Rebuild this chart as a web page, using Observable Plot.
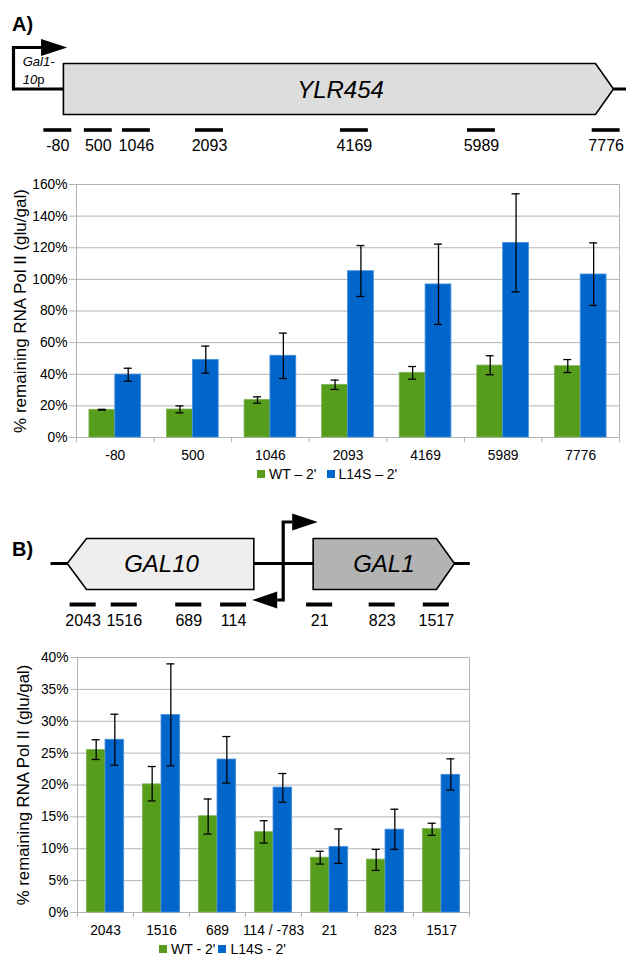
<!DOCTYPE html>
<html><head><meta charset="utf-8">
<script src="https://cdn.jsdelivr.net/npm/d3@7"></script>
<script src="https://cdn.jsdelivr.net/npm/@observablehq/plot@0.6"></script>
<style>
body{margin:0;background:#fff;font-family:"Liberation Sans",Arial,sans-serif;color:#000;}
#page{position:relative;width:626px;height:957px;overflow:hidden;background:#fff;}
.slot{position:absolute;left:0;}
.panel{position:absolute;font-weight:bold;font-size:20px;line-height:20px;}
.prom{position:absolute;font-size:13px;line-height:18.3px;}
.legend{position:absolute;display:flex;align-items:center;font-size:14px;line-height:18px;white-space:nowrap;}
.sw{display:inline-block;width:8px;height:8px;margin-right:4px;}
</style></head><body><div id="page"></div>
<script>
// ---------- data ----------
const catsA = ["-80", "500", "1046", "2093", "4169", "5989", "7776"];
const wtA    = [0.175, 0.177, 0.238, 0.333, 0.409, 0.455, 0.451];
const wtALo  = [0.173, 0.156, 0.217, 0.304, 0.369, 0.397, 0.411];
const wtAHi  = [0.178, 0.200, 0.257, 0.363, 0.449, 0.517, 0.493];
const mutA   = [0.398, 0.491, 0.517, 1.052, 0.968, 1.231, 1.031];
const mutALo = [0.356, 0.407, 0.373, 0.892, 0.715, 0.921, 0.835];
const mutAHi = [0.438, 0.578, 0.660, 1.214, 1.223, 1.541, 1.231];

const catsB = ["2043", "1516", "689", "114 / -783", "21", "823", "1517"];
const wtB    = [0.255, 0.201, 0.151, 0.126, 0.086, 0.083, 0.131];
const wtBLo  = [0.240, 0.175, 0.123, 0.109, 0.076, 0.066, 0.121];
const wtBHi  = [0.271, 0.229, 0.178, 0.144, 0.096, 0.099, 0.140];
const mutB   = [0.271, 0.310, 0.240, 0.196, 0.103, 0.130, 0.216];
const mutBLo = [0.231, 0.230, 0.203, 0.173, 0.077, 0.099, 0.192];
const mutBHi = [0.311, 0.390, 0.276, 0.218, 0.131, 0.162, 0.241];

// probe positions (bp) for the gene diagrams
const probesA = [-80, 500, 1046, 2093, 4169, 5989, 7776];
const probesGal10 = [2043, 1516, 689, 114];
const probesGal1 = [21, 823, 1517];

const seriesA = ["WT \u2013 2'", "L14S \u2013 2'"];
const seriesB = ["WT - 2'", "L14S - 2'"];
const yLabel = "% remaining RNA Pol II (glu/gal)";

// ---------- styles ----------
const GREEN = "#579d1c", BLUE = "#0066cc", GRID = "#b3b3b3";
const FONT = '"Liberation Sans", Arial, sans-serif';
const page = document.getElementById("page");

function place(node, top) {
  const d = document.createElement("div");
  d.className = "slot"; d.style.top = top + "px";
  d.appendChild(node); page.appendChild(d);
}
function html(cls, top, left, inner) {
  const d = document.createElement("div");
  d.className = cls; d.style.top = top + "px"; d.style.left = left + "px";
  d.innerHTML = inner; page.appendChild(d);
}

function barChart(o) {
  const n = o.cats.length;
  const rows = [];
  o.cats.forEach((c, i) => {
    rows.push({i, s: 0, v: o.wt[i], lo: o.wtLo[i], hi: o.wtHi[i]});
    rows.push({i, s: 1, v: o.mut[i], lo: o.mutLo[i], hi: o.mutHi[i]});
  });
  const bandPx = (626 - o.marginLeft - o.marginRight) / n;
  const cap = 4 / bandPx;
  const x1 = d => d.i + 1 / 6 + d.s / 3;
  const xc = d => x1(d) + 1 / 6;
  const yTicks = d3.range(0, o.yMax + o.yStep / 2, o.yStep);
  return Plot.plot({
    width: 626, height: o.height,
    marginTop: o.marginTop, marginBottom: o.marginBottom,
    marginLeft: o.marginLeft, marginRight: o.marginRight,
    style: {fontFamily: FONT, fontSize: "13.8px", color: "#000", background: "transparent", overflow: "visible"},
    x: {type: "linear", domain: [0, n]},
    y: {type: "linear", domain: [0, o.yMax]},
    marks: [
      Plot.ruleY(yTicks, {x1: 0, x2: n, stroke: GRID, strokeWidth: 1}),
      Plot.ruleX([0, n], {stroke: GRID, strokeWidth: 1}),
      Plot.rect(rows, {
        x1, x2: d => x1(d) + 1 / 3, y1: 0, y2: "v",
        fill: d => d.s ? BLUE : GREEN,
        stroke: d => d.s ? "#4d94db" : "#7fb356", strokeWidth: 0.8
      }),
      Plot.ruleX(rows, {x: xc, y1: "lo", y2: "hi", stroke: "#000", strokeWidth: 1.3}),
      Plot.ruleY(rows, {y: "hi", x1: d => xc(d) - cap, x2: d => xc(d) + cap, stroke: "#000", strokeWidth: 1.3}),
      Plot.ruleY(rows, {y: "lo", x1: d => xc(d) - cap, x2: d => xc(d) + cap, stroke: "#000", strokeWidth: 1.3}),
      Plot.axisY({ticks: yTicks, tickFormat: d3.format(".0%"), tickSize: 7, tickPadding: 2, stroke: GRID, label: null, fontSize: 13.8}),
      Plot.axisX({ticks: d3.range(0, n + 1), tickSize: 5, tickFormat: () => "", stroke: GRID, label: null}),
      Plot.axisX({ticks: o.cats.map((c, i) => i + 0.5), tickSize: 0, tickPadding: 13,
        tickFormat: d => o.cats[Math.floor(d)], label: null, fontSize: 13.8}),
      Plot.text([yLabel], {frameAnchor: "left", dx: o.labelDx, rotate: -90,
        textAnchor: "middle", lineAnchor: "middle", fontSize: o.labelSize})
    ]
  });
}

function legend(top, left, names, gap) {
  html("legend", top, left,
    `<span class="sw" style="background:${GREEN}"></span><span>${names[0]}</span>` +
    `<span class="sw" style="background:${BLUE};margin-left:${gap}px"></span><span>${names[1]}</span>`);
}

// ---------- diagram A ----------
{
  const geneA = [[0, 63], [7623, 63], [7881, 88.5], [7623, 114], [0, 114], [0, 63]];
  const promA = [[0, 88.5], [-715, 88.5], [-715, 47], [-304, 47]];
  const headA = [[-320, 38.5], [54, 47], [-320, 55.5]];
  const probes = probesA.map(p => ({pos: p, label: String(p)}));
  const svg = Plot.plot({
    width: 626, height: 160, margin: 0,
    style: {fontFamily: FONT, background: "transparent", overflow: "visible"},
    x: {type: "linear", domain: [-62.9 / 0.0698, (626 - 62.9) / 0.0698], range: [0, 626], axis: null},
    y: {type: "linear", domain: [0, 160], range: [0, 160], axis: null},
    marks: [
      Plot.line([[7881, 88.5], [8300, 88.5]], {x: d => d[0], y: d => d[1], stroke: "#000", strokeWidth: 3, strokeLinecap: "butt"}),
      Plot.line(promA, {x: d => d[0], y: d => d[1], stroke: "#000", strokeWidth: 3.2, strokeLinecap: "butt", strokeLinejoin: "miter", strokeMiterlimit: 10}),
      Plot.line(headA, {x: d => d[0], y: d => d[1], fill: "#000", stroke: "none"}),
      Plot.line(geneA, {x: d => d[0], y: d => d[1], fill: "#dddddd", stroke: "#000", strokeWidth: 1.6, strokeLinejoin: "miter", strokeMiterlimit: 10}),
      Plot.text(["YLR454"], {x: () => 3970, y: () => 89.5, fontSize: 24, fontStyle: "italic", lineAnchor: "middle"}),
      Plot.ruleY(probes, {y: () => 129.5, x1: d => d.pos - 200, x2: d => d.pos + 200, stroke: "#000", strokeWidth: 3.6}),
      Plot.text(probes, {x: "pos", y: () => 145.5, text: "label", fontSize: 16, lineAnchor: "middle"})
    ]
  });
  place(svg, 0);
  html("panel", 14, 12, "A)");
  html("prom", 53, 22.7, "<i>Gal1-<br>10</i>p");
}

// ---------- chart A ----------
place(barChart({
  cats: catsA, wt: wtA, wtLo: wtALo, wtHi: wtAHi, mut: mutA, mutLo: mutALo, mutHi: mutAHi,
  yMax: 1.6, yStep: 0.2, height: 315, marginTop: 14, marginBottom: 48, marginLeft: 76, marginRight: 7,
  labelDx: -56, labelSize: 17
}), 170);
legend(465, 257, seriesA, 10);

// ---------- diagram B ----------
{
  const gap = 968; // schematic offset between GAL10 and GAL1 origins
  const probes = [
    ...probesGal10.map(p => ({pos: -(p + gap), label: String(p)})),
    ...probesGal1.map(p => ({pos: p, label: String(p)}))
  ];
  const gal10 = [[-823, 538], [-2968, 538], [-3215, 563], [-2968, 589], [-823, 589], [-823, 538]];
  const gal1 = [[-62, 538], [1519, 538], [1750, 563], [1519, 589], [-62, 589], [-62, 538]];
  const prom = [[-331, 521.5], [-446, 521.5], [-446, 599.5], [-523, 599.5]];
  const headR = [[-331, 513], [-3, 521.5], [-331, 530]];
  const headL = [[-523, 591], [-844, 599.5], [-523, 608]];
  const P = {x: d => d[0], y: d => d[1]};
  const svg = Plot.plot({
    width: 626, height: 150, margin: 0,
    style: {fontFamily: FONT, background: "transparent", overflow: "visible"},
    x: {type: "linear", domain: [-317.5 / 0.078, (626 - 317.5) / 0.078], range: [0, 626], axis: null},
    y: {type: "linear", domain: [485, 635], range: [0, 150], axis: null},
    marks: [
      Plot.line([[-3429, 563], [1946, 563]], {...P, stroke: "#000", strokeWidth: 3.2, strokeLinecap: "butt"}),
      Plot.line(gal10, {...P, fill: "#eeeeee", stroke: "#000", strokeWidth: 1.6, strokeLinejoin: "miter", strokeMiterlimit: 10}),
      Plot.line(gal1, {...P, fill: "#b3b3b3", stroke: "#000", strokeWidth: 1.6, strokeLinejoin: "miter", strokeMiterlimit: 10}),
      Plot.line(prom, {...P, stroke: "#000", strokeWidth: 3.2, strokeLinecap: "butt", strokeLinejoin: "miter", strokeMiterlimit: 10}),
      Plot.line(headR, {...P, fill: "#000", stroke: "none"}),
      Plot.line(headL, {...P, fill: "#000", stroke: "none"}),
      Plot.text(["GAL10"], {x: () => -2006, y: () => 563.5, fontSize: 24, fontStyle: "italic", lineAnchor: "middle"}),
      Plot.text(["GAL1"], {x: () => 844, y: () => 563.5, fontSize: 24, fontStyle: "italic", lineAnchor: "middle"}),
      Plot.ruleY(probes, {y: () => 604, x1: d => d.pos - 167, x2: d => d.pos + 167, stroke: "#000", strokeWidth: 4}),
      Plot.text(probes, {x: "pos", y: () => 620.5, text: "label", fontSize: 16, lineAnchor: "middle"})
    ]
  });
  place(svg, 485);
  html("panel", 539, 12, "B)");
}

// ---------- chart B ----------
place(barChart({
  cats: catsB, wt: wtB, wtLo: wtBLo, wtHi: wtBHi, mut: mutB, mutLo: mutBLo, mutHi: mutBHi,
  yMax: 0.4, yStep: 0.05, height: 322, marginTop: 22, marginBottom: 45, marginLeft: 77, marginRight: 157,
  labelDx: -54, labelSize: 16.8
}), 635);
legend(939.5, 159, seriesB, 3);
</script></body></html>
